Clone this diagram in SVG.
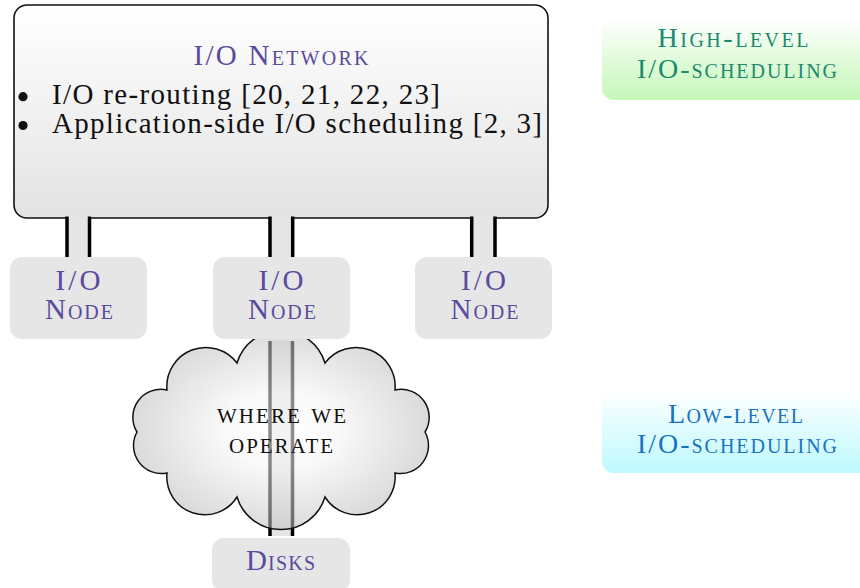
<svg xmlns="http://www.w3.org/2000/svg" width="860" height="588" viewBox="0 0 860 588">
<defs>
<linearGradient id="boxGrad" x1="0" y1="0" x2="0" y2="1">
<stop offset="0" stop-color="#ffffff"/>
<stop offset="1" stop-color="#e3e3e3"/>
</linearGradient>
<radialGradient id="cloudGrad" cx="0.5" cy="0.5" r="0.55">
<stop offset="0" stop-color="#ffffff"/>
<stop offset="0.35" stop-color="#f4f4f4"/>
<stop offset="1" stop-color="#b4b4b4"/>
</radialGradient>
<linearGradient id="greenGrad" x1="0" y1="0" x2="0" y2="1">
<stop offset="0" stop-color="#ffffff"/>
<stop offset="1" stop-color="#c4f7b8"/>
</linearGradient>
<linearGradient id="cyanGrad" x1="0" y1="0" x2="0" y2="1">
<stop offset="0" stop-color="#ffffff"/>
<stop offset="1" stop-color="#bdf9fd"/>
</linearGradient>
</defs>
<style>
text { font-family: "Liberation Serif", "Times New Roman", serif; }
.sc { font-variant: small-caps; }
.purple { fill: #5a4b9f; }
.body { fill: #111111; font-size: 29px; }
.lbl { font-size: 29px; text-anchor: middle; }
.node { fill: #e6e6e6; }
.pipeFill { fill: #e5e5e5; stroke: none; }
.pipeLine { stroke: #000000; stroke-width: 3.5; fill: none; }
.green { fill: #1b8a6c; font-size: 28px; text-anchor: middle; }
.blue { fill: #1a72c2; font-size: 28px; text-anchor: middle; }
</style>

<g id="network">
<rect x="14" y="5" width="534" height="213" rx="13" ry="13" fill="url(#boxGrad)" stroke="#111" stroke-width="1.6"/>
<text class="lbl purple sc" x="281" y="65" textLength="175" lengthAdjust="spacing">I/O Network</text>
<circle cx="23" cy="96.7" r="4.6" fill="#111"/>
<circle cx="23" cy="125.5" r="4.6" fill="#111"/>
<text class="body" x="52" y="103.5" textLength="388" lengthAdjust="spacing">I/O re-routing [20, 21, 22, 23]</text>
<text class="body" x="52" y="132.5" textLength="490" lengthAdjust="spacing">Application-side I/O scheduling [2, 3]</text>
</g>

<g id="connectors">
<rect class="pipeFill" x="67" y="216" width="23" height="41"/>
<line class="pipeLine" x1="67" y1="216.5" x2="67" y2="257"/>
<line class="pipeLine" x1="89.5" y1="216.5" x2="89.5" y2="257"/>
<rect class="pipeFill" x="270" y="216" width="23" height="41"/>
<line class="pipeLine" x1="270" y1="216.5" x2="270" y2="257"/>
<line class="pipeLine" x1="292.7" y1="216.5" x2="292.7" y2="257"/>
<rect class="pipeFill" x="472" y="216" width="23" height="41"/>
<line class="pipeLine" x1="471.7" y1="216.5" x2="471.7" y2="257"/>
<line class="pipeLine" x1="495" y1="216.5" x2="495" y2="257"/>
<rect class="pipeFill" x="270" y="341" width="22.5" height="195" stroke="#c8c8c8" stroke-width="1"/>
<line class="pipeLine" x1="270" y1="341" x2="270" y2="536" stroke-width="3"/>
<line class="pipeLine" x1="292.5" y1="341" x2="292.5" y2="536" stroke-width="3"/>
</g>

<g id="cloud">
<path d="M237,363 A46,46 0 0,1 325,363 A39,39 0 0,1 395,390 A28,28 0 0,1 425,432 A28,28 0 0,1 395,473 A38,38 0 0,1 325,497 A46,46 0 0,1 237,497 A38,38 0 0,1 167,473 A28,28 0 0,1 137,432 A28,28 0 0,1 167,390 A39,39 0 0,1 237,363 Z" fill="url(#cloudGrad)" fill-opacity="0.55" stroke="#111" stroke-width="1.5"/>
<text class="sc" font-size="30" text-anchor="middle" fill="#111"><tspan x="281.5" y="423" textLength="129" lengthAdjust="spacing">where we</tspan><tspan x="281" y="453" textLength="104" lengthAdjust="spacing">operate</tspan></text>
</g>

<g id="node1">
<rect class="node" x="10" y="257" width="137" height="82" rx="12" ry="12"/>
<text class="lbl purple"><tspan x="78" y="290" textLength="45" lengthAdjust="spacing">I/O</tspan><tspan class="sc" x="79" y="319" textLength="68" lengthAdjust="spacing">Node</tspan></text>
</g>
<g id="node2">
<rect class="node" x="213" y="257" width="137" height="82" rx="12" ry="12"/>
<text class="lbl purple"><tspan x="281" y="290" textLength="45" lengthAdjust="spacing">I/O</tspan><tspan class="sc" x="282" y="319" textLength="68" lengthAdjust="spacing">Node</tspan></text>
</g>
<g id="node3">
<rect class="node" x="415" y="257" width="137" height="82" rx="12" ry="12"/>
<text class="lbl purple"><tspan x="483.5" y="290" textLength="45" lengthAdjust="spacing">I/O</tspan><tspan class="sc" x="484.5" y="319" textLength="68" lengthAdjust="spacing">Node</tspan></text>
</g>

<g id="disks">
<rect class="node" x="212" y="538" width="138" height="54" rx="12" ry="12"/>
<text class="lbl purple sc" x="280.5" y="570" textLength="69" lengthAdjust="spacing">Disks</text>
</g>

<g id="high-level">
<rect x="602" y="18" width="290" height="82" rx="12" ry="12" fill="url(#greenGrad)"/>
<text class="green sc"><tspan x="733" y="47" textLength="151" lengthAdjust="spacing">High-level</tspan><tspan x="737" y="78" textLength="200" lengthAdjust="spacing">I/O-scheduling</tspan></text>
</g>

<g id="low-level">
<rect x="602" y="390" width="290" height="83" rx="12" ry="12" fill="url(#cyanGrad)"/>
<text class="blue sc"><tspan x="735.5" y="423" textLength="135" lengthAdjust="spacing">Low-level</tspan><tspan x="737" y="453" textLength="200" lengthAdjust="spacing">I/O-scheduling</tspan></text>
</g>
</svg>
